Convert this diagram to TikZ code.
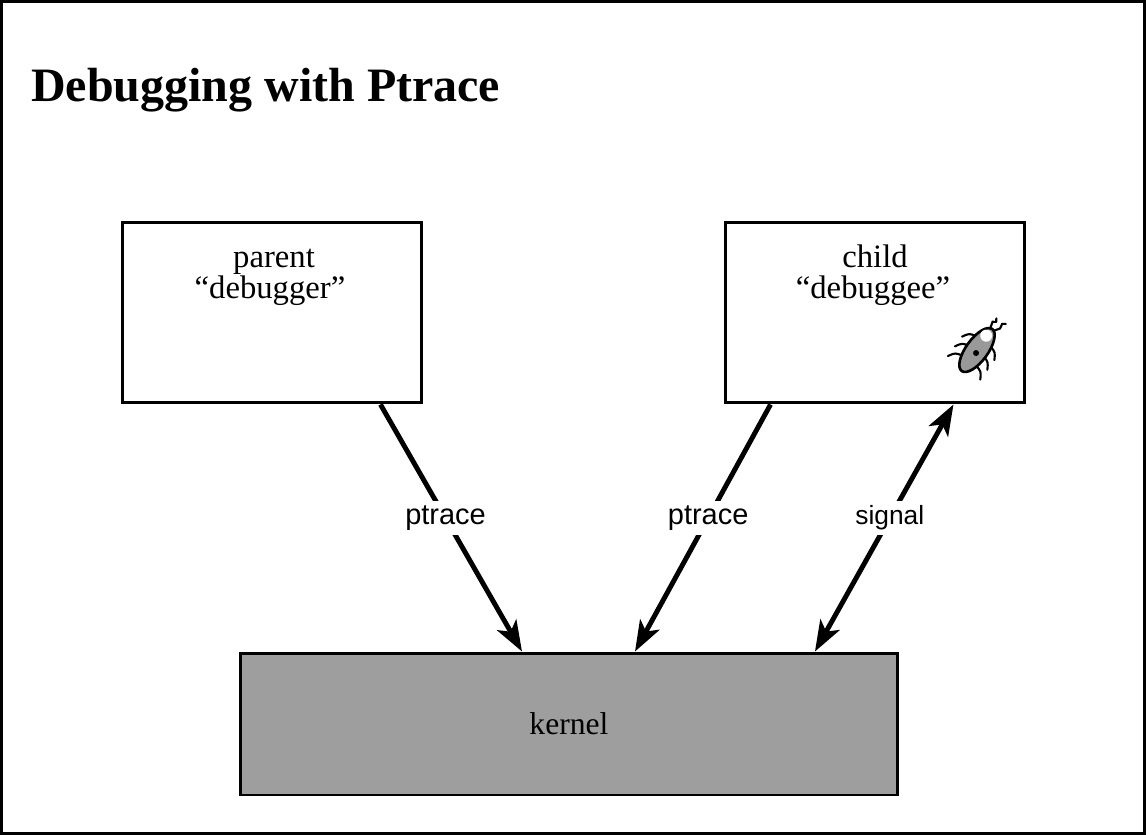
\documentclass[tikz,border=0pt]{standalone}
\usepackage{fontspec}
\setmainfont{Liberation Serif}
\newfontfamily\labelfont{Liberation Sans}
\usetikzlibrary{arrows.meta,positioning}

\begin{document}
\begin{tikzpicture}[x=0.02cm,y=-0.02cm,
    procbox/.style={draw,line width=1.7pt,inner sep=0pt,minimum width=6cm,minimum height=3.62cm},
    boxtext/.style={font=\fontsize{18.6}{17}\selectfont},
    calltext/.style={font=\labelfont\fontsize{16.5}{18}\selectfont,fill=white,inner sep=2.5pt},
    calltip/.tip={Stealth[length=17.5pt,width=12.5pt,inset=4.5pt]},
    link/.style={line width=2.8pt,-calltip},
    leg/.style={line width=1.2pt,line cap=round}]
  \useasboundingbox (0,0) rectangle (1146,835);
  \draw[line width=1.2pt] (1.5,1.5) rectangle (1144.5,833.5);

  \node[anchor=base west,font=\bfseries\fontsize{27.3}{30}\selectfont] (title) at (25,101) {Debugging with Ptrace};

  % processes and kernel
  \node[procbox] (parent) at (272,312.5) {};
  \node[procbox] (child) at (875,312.5) {};
  \node[procbox,fill=black!38,minimum width=13.14cm,minimum height=2.84cm,
        font=\fontsize{18}{20}\selectfont] (kernel) at (569,724) {kernel};

  \node[boxtext,anchor=base] (ptitle) at (274,267) {parent};
  \node[boxtext,anchor=base] (pquote) at (270,298) {“debugger”};
  \node[boxtext,anchor=base] (ctitle) at (875,267) {child};
  \node[boxtext,anchor=base] (cquote) at (873,298) {“debuggee”};

  % system calls
  \draw[link] ([xshift=-0.86cm]parent.south east) -- node[calltext,pos=0.46] {ptrace} ([xshift=-0.94cm]kernel.north);
  \draw[link] ([xshift=0.94cm]child.south west) -- node[calltext,pos=0.46] {ptrace} ([xshift=1.32cm]kernel.north);
  \draw[line width=2.8pt,calltip-calltip] ([xshift=4.92cm]kernel.north) -- node[calltext,pos=0.54,font=\labelfont\fontsize{15}{18}\selectfont] {signal} ([xshift=-1.46cm]child.south east);

  % the bug
  \begin{scope}[shift={(977,350)},rotate=54]
    \foreach \u in {-13,-1,11} {
      \draw[leg] (\u,8) .. controls (\u-2,16) .. (\u-9,20);
      \draw[leg] (\u,-8) .. controls (\u-2,-16) .. (\u-9,-20);
    }
    \draw[line width=1.5pt,fill=black!40] (0,0) ellipse [x radius=26, y radius=11];
    \fill[white] (17,-1) ellipse [x radius=6, y radius=6];
    \fill (-3,1) circle (3);
    \draw[leg] (25,-2) -- (32,-4) -- (34,-1);
    \draw[leg] (25,2) -- (31,6) -- (36,5);
    \draw[leg] (34,-1) -- (37,-3);
    \draw[leg] (36,5) -- (38,8);
  \end{scope}
\end{tikzpicture}
\end{document}
